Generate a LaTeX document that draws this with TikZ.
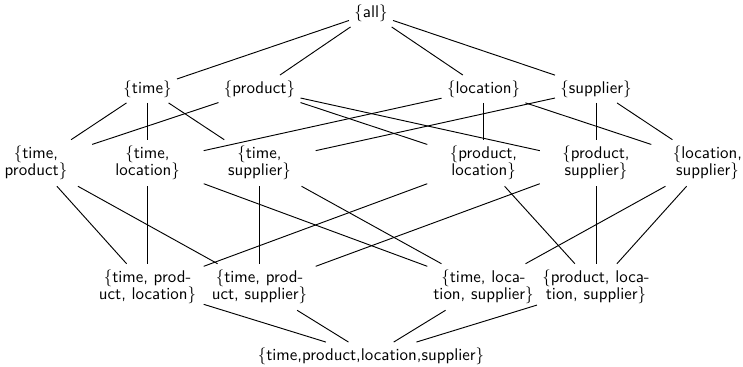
\documentclass[tikz,border=0pt]{standalone}
\begin{document}
\begin{tikzpicture}[x=0.644pt,y=-0.644pt,
  lat/.style={font=\sffamily\fontsize{10.9}{11.2}\selectfont, inner sep=3.33pt},
  one/.style={lat},
  two/.style={lat, align=center, minimum width=72pt, minimum height=29.6pt},
  link/.style={line width=0.6pt, black}]
\useasboundingbox (0,0) rectangle (743,367);
% row 0
\node[one] (all) at (371,13) {\{all\}};
% row 1
\node[one] (t) at (147.5,89) {\{time\}};
\node[one] (p) at (259.5,89) {\{product\}};
\node[one] (l) at (483.5,89) {\{location\}};
\node[one] (s) at (596,89) {\{supplier\}};
% row 2
\node[two] (tp) at (36,163) {\{time,\\product\}};
\node[two] (tl) at (147.5,163) {\{time,\\location\}};
\node[two] (ts) at (259.5,163) {\{time,\\supplier\}};
\node[two] (pl) at (483.5,163) {\{product,\\location\}};
\node[two] (ps) at (596,163) {\{product,\\supplier\}};
\node[two] (ls) at (707.5,163) {\{location,\\supplier\}};
% row 3
\node[two] (tpl) at (147.5,287) {\{time, prod-\\uct, location\}};
\node[two] (tps) at (259.5,287) {\{time, prod-\\uct, supplier\}};
\node[two] (tls) at (483.5,287) {\{time, loca-\\tion, supplier\}};
\node[two] (pls) at (596,287) {\{product, loca-\\tion, supplier\}};
% row 4
\node[one] (bot) at (371,356) {\{time,product,location,supplier\}};
% edges
\foreach \a/\b in {all/t,all/p,all/l,all/s,
  t/tp,t/tl,t/ts,p/tp,p/pl,p/ps,l/tl,l/pl,l/ls,s/ts,s/ps,s/ls,
  tp/tpl,tp/tps,tl/tpl,tl/tls,ts/tps,ts/tls,pl/tpl,pl/pls,ps/tps,ps/pls,ls/tls,ls/pls,
  tpl/bot,tps/bot,tls/bot,pls/bot}
  \draw[link] (\a) -- (\b);
\end{tikzpicture}
\end{document}
